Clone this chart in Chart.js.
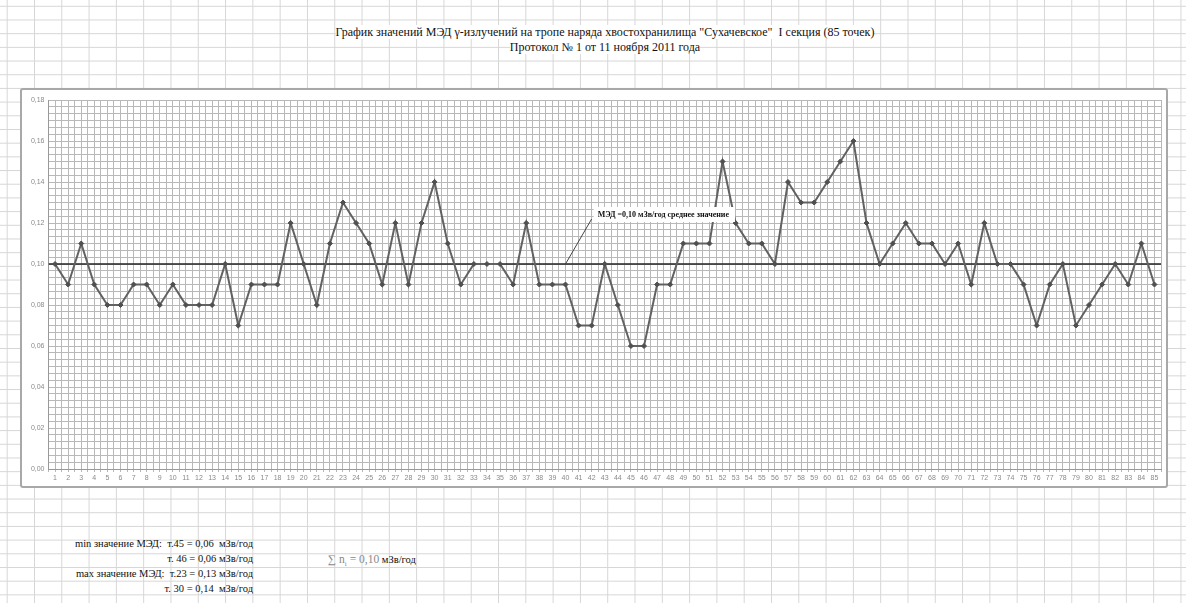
<!DOCTYPE html>
<html>
<head>
<meta charset="utf-8">
<script src="https://cdn.jsdelivr.net/npm/chart.js@4.4.1/dist/chart.umd.min.js"></script>
<style>
  html, body { margin: 0; padding: 0; }
  body {
    width: 1186px; height: 603px; position: relative; overflow: hidden;
    background-color: #fff;
    background-image:
      linear-gradient(to right, #d6d6d6 1px, transparent 1px),
      linear-gradient(to bottom, #d6d6d6 1px, transparent 1px);
    background-size: 27.3px 13.7px;
    background-position: 6.7px 5.8px;
  }
  .title, .note { font-family: "Liberation Serif", "DejaVu Serif", serif; }
  .title { position: absolute; left: 0; width: 1210px; text-align: center; font-size: 12px; color: #111; }
  .title span { background: #fff; }
  #box {
    position: absolute; left: 20px; top: 88px; width: 1144px; height: 396px;
    border: 2px solid #a8a8a8; border-radius: 3px; background: #fff;
  }
  .note { position: absolute; font-size: 10.5px; color: #111; white-space: nowrap; }
  .r { right: 933px; text-align: right; }
</style>
</head>
<body>
<div class="title" style="top:25px"><span>График значений МЭД γ-излучений на тропе наряда хвостохранилища "Сухачевское"&nbsp; I секция (85 точек)</span></div>
<div class="title" style="top:40px"><span>Протокол № 1 от 11 ноября 2011 года</span></div>

<div id="box"><canvas id="chart"></canvas></div>

<div class="note r" style="top:538px">min значение МЭД:&nbsp; т.45 = 0,06&nbsp; мЗв/год</div>
<div class="note r" style="top:553px">т. 46 = 0,06 мЗв/год</div>
<div class="note r" style="top:568px">max значение МЭД:&nbsp; т.23 = 0,13 мЗв/год</div>
<div class="note r" style="top:583px">т. 30 = 0,14&nbsp; мЗв/год</div>
<div class="note" style="left:328px; top:553px"><span style="color:#888; font-size:11.5px">∑ n<sub style="font-size:7px">i</sub> = 0,10</span> мЗв/год</div>

<script>
// МЭД values for points 1..85 (мЗв/год)
const points = Array.from({ length: 85 }, (_, i) => i + 1)
const values = [
  0.10, 0.09, 0.11, 0.09, 0.08, 0.08, 0.09, 0.09, 0.08, 0.09,
  0.08, 0.08, 0.08, 0.10, 0.07, 0.09, 0.09, 0.09, 0.12, 0.10,
  0.08, 0.11, 0.13, 0.12, 0.11, 0.09, 0.12, 0.09, 0.12, 0.14,
  0.11, 0.09, 0.10, 0.10, 0.10, 0.09, 0.12, 0.09, 0.09, 0.09,
  0.07, 0.07, 0.10, 0.08, 0.06, 0.06, 0.09, 0.09, 0.11, 0.11,
  0.11, 0.15, 0.12, 0.11, 0.11, 0.10, 0.14, 0.13, 0.13, 0.14,
  0.15, 0.16, 0.12, 0.10, 0.11, 0.12, 0.11, 0.11, 0.10, 0.11,
  0.09, 0.12, 0.10, 0.10, 0.09, 0.07, 0.09, 0.10, 0.07, 0.08,
  0.09, 0.10, 0.09, 0.11, 0.09
]
const meanValue = 0.10
const meanLabel = 'МЭД =0,10 мЗв/год среднее значение'
const yMax = 0.18
const yMajor = 0.02
const yMinorPerMajor = 6

const canvas = document.getElementById('chart')
canvas.width = 1144
canvas.height = 396
canvas.style.width = '1144px'
canvas.style.height = '396px'

// callout box with leader line to the mean line
const calloutPlugin = {
  id: 'callout',
  afterDatasetsDraw(chart) {
    const { ctx, scales } = chart
    const x0 = scales.x.getPixelForValue(40)
    const y0 = scales.y.getPixelForValue(meanValue)
    const bx = scales.x.getPixelForValue(42.15)
    const by = scales.y.getPixelForValue(0.1278)
    ctx.save()
    ctx.strokeStyle = '#444'
    ctx.lineWidth = 1
    ctx.beginPath()
    ctx.moveTo(x0, y0)
    ctx.lineTo(bx - 2, by + 12)
    ctx.stroke()
    ctx.font = 'bold 8px "Liberation Serif"'
    const w = ctx.measureText(meanLabel).width + 10
    ctx.fillStyle = '#fff'
    ctx.fillRect(bx, by, Math.max(w, 132), 15)
    ctx.fillStyle = '#111'
    ctx.textBaseline = 'middle'
    ctx.fillText(meanLabel, bx + 4, by + 7.5)
    ctx.restore()
  }
}

new Chart(canvas, {
  type: 'line',
  data: {
    datasets: [
      {
        data: points.map((p, i) => ({ x: p, y: values[i] })),
        borderColor: '#626262',
        backgroundColor: '#505050',
        borderWidth: 2,
        pointStyle: 'rectRot',
        pointRadius: 2.5,
        pointBorderWidth: 1,
        pointBorderColor: '#505050',
        tension: 0
      },
      {
        data: [{ x: 0.5, y: meanValue }, { x: points.length + 0.5, y: meanValue }],
        borderColor: '#222',
        borderWidth: 1.5,
        pointRadius: 0
      }
    ]
  },
  options: {
    responsive: false,
    animation: false,
    layout: { padding: { top: 10, right: 5, left: 0, bottom: 0 } },
    plugins: { legend: { display: false }, tooltip: { enabled: false } },
    scales: {
      x: {
        type: 'linear',
        min: 0.5,
        max: points.length + 0.5,
        afterFit(scale) { scale.height = 17 },
        ticks: {
          stepSize: 0.5,
          autoSkip: false,
          maxRotation: 0,
          color: '#8a8a8a',
          font: { size: 7, family: 'Liberation Sans' },
          padding: 2,
          callback: v => Number.isInteger(v) ? v : ''
        },
        grid: { color: '#b8b8b8', lineWidth: 1, tickLength: 3 },
        border: { color: '#999' }
      },
      y: {
        min: 0,
        max: yMax,
        afterFit(scale) { scale.width = 26.5 },
        ticks: {
          stepSize: yMajor / yMinorPerMajor,
          autoSkip: false,
          color: '#8a8a8a',
          font: { size: 7, family: 'Liberation Sans' },
          padding: 4,
          callback: (v, i) => i % yMinorPerMajor === 0 ? v.toFixed(2).replace('.', ',') : ''
        },
        grid: { color: '#b8b8b8', lineWidth: 1, drawTicks: false },
        border: { color: '#999' }
      }
    }
  },
  plugins: [calloutPlugin]
})
</script>
</body>
</html>
